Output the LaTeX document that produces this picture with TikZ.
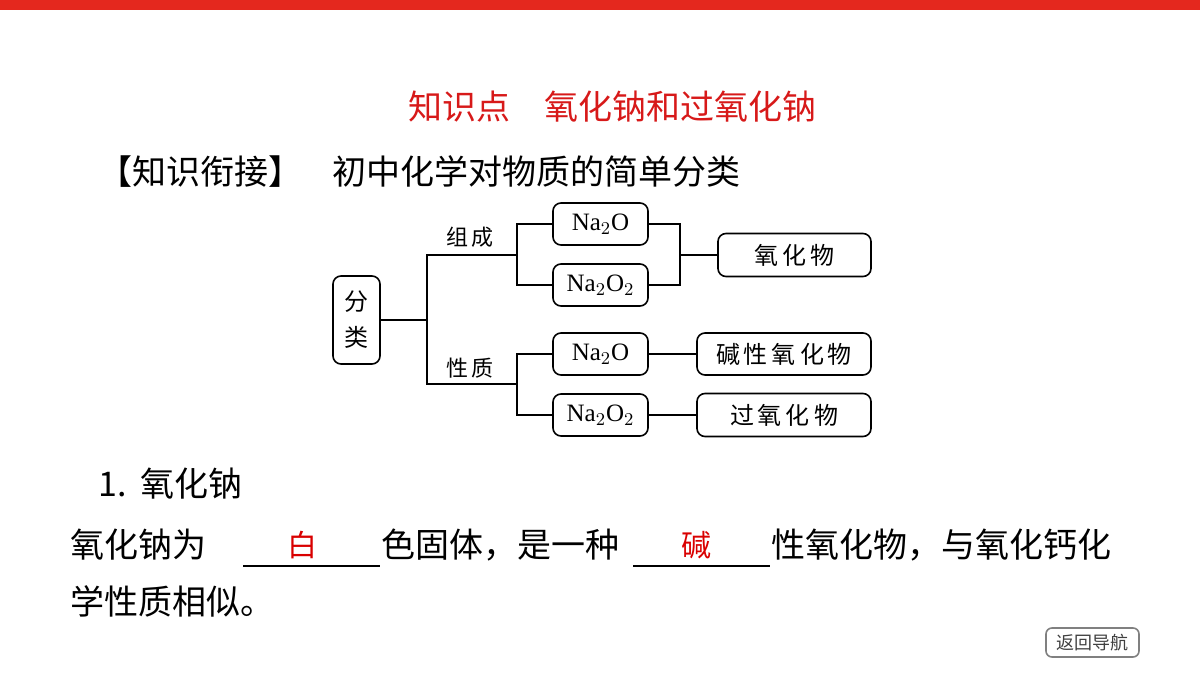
\documentclass[tikz,border=0pt]{standalone}
\usepackage{fontspec}
\setmainfont{Liberation Serif}
\newfontfamily\cjk{Noto Sans CJK SC}
\begin{document}
\begin{tikzpicture}[x=0.5pt,y=-0.5pt,
  box/.style={draw,rounded corners=4pt,line width=0.8pt,inner sep=0pt,font=\fontsize{12.5}{14}\selectfont},
  ln/.style={line width=0.8pt},
  txt/.style={inner sep=0pt,anchor=west,font=\cjk\fontsize{17}{20}\selectfont},
  lab/.style={inner sep=0pt,font=\cjk\fontsize{11}{13}\selectfont}]
\useasboundingbox (0,0) rectangle (1200,675);
\fill[fill={rgb,255:red,228;green,40;blue,30}] (0,0) rectangle (1200,10);
\node[inner sep=0pt,text={rgb,255:red,215;green,25;blue,25},font=\cjk\fontsize{17}{20}\selectfont] (title) at (612,107) {知识点\hspace{1em}氧化钠和过氧化钠};
\node[txt] (sub) at (98,172) {【知识衔接】\hspace{0.9em}初中化学对物质的简单分类};
% diagram
\node[box,minimum width=23.5pt,minimum height=44pt,text width=12pt,align=center,font=\cjk\fontsize{12}{18}\selectfont] (fl) at (356.5,320) {分\\类};
\node[box,minimum width=47.5pt,minimum height=21pt] (a1) at (600.5,224) {Na$_2$O};
\node[box,minimum width=47.5pt,minimum height=21pt] (a2) at (600.5,285) {Na$_2$O$_2$};
\node[box,minimum width=47.5pt,minimum height=21pt] (b1) at (600.5,354) {Na$_2$O};
\node[box,minimum width=47.5pt,minimum height=21pt] (b2) at (600.5,415) {Na$_2$O$_2$};
\node[box,minimum width=76.5pt,minimum height=21.5pt,font=\cjk\fontsize{12}{14}\selectfont] (c1) at (794.5,255) {氧\,化\,物};
\node[box,minimum width=87pt,minimum height=21pt,font=\cjk\fontsize{12}{14}\selectfont] (c2) at (784,354) {碱\,性\,氧\,化\,物};
\node[box,minimum width=87pt,minimum height=21.5pt,font=\cjk\fontsize{12}{14}\selectfont] (c3) at (784,415) {过\,氧\,化\,物};
\node[lab] (zc) at (470,237) {组\,成};
\node[lab] (xz) at (470,368) {性\,质};
\coordinate (j0) at (427,320);
\coordinate (j1) at (517,255);
\coordinate (j2) at (517,384);
\coordinate (j3) at (680,255);
\draw[ln] (fl.east) -- (j0);
\draw[ln] (j1) -| (j0) |- (j2);
\draw[ln] (a1.west) -| (j1) |- (a2.west);
\draw[ln] (b1.west) -| (j2) |- (b2.west);
\draw[ln] (a1.east) -| (j3) |- (a2.east);
\draw[ln] (j3) -- (c1.west);
\draw[ln] (b1) -- (c2);
\draw[ln] (b2) -- (c3);
% text
\node[txt] (h1) at (98,484) {1.\hspace{0.4em}氧化钠};
\node[txt] (p1) at (70,545) {氧化钠为};
\draw[line width=0.6pt] (243,566) -- (380,566);
\node[inner sep=0pt,text=red!85!black,font=\cjk\fontsize{15}{18}\selectfont] (w) at (302,545) {白};
\node[txt] (p2) at (381,545) {色固体，是一种};
\draw[line width=0.6pt] (633,566) -- (770,566);
\node[inner sep=0pt,text=red!85!black,font=\cjk\fontsize{15}{18}\selectfont] (j) at (696,545) {碱};
\node[txt] (p3) at (771,545) {性氧化物，与氧化钙化};
\node[txt] (p4) at (70,601) {学性质相似。};
\node[draw=gray,line width=0.8pt,rounded corners=3pt,minimum width=46.5pt,minimum height=14.5pt,inner sep=0pt,text=black!75,font=\cjk\fontsize{9}{11}\selectfont] (nav) at (1092.5,642.5) {返回导航};
\end{tikzpicture}
\end{document}
